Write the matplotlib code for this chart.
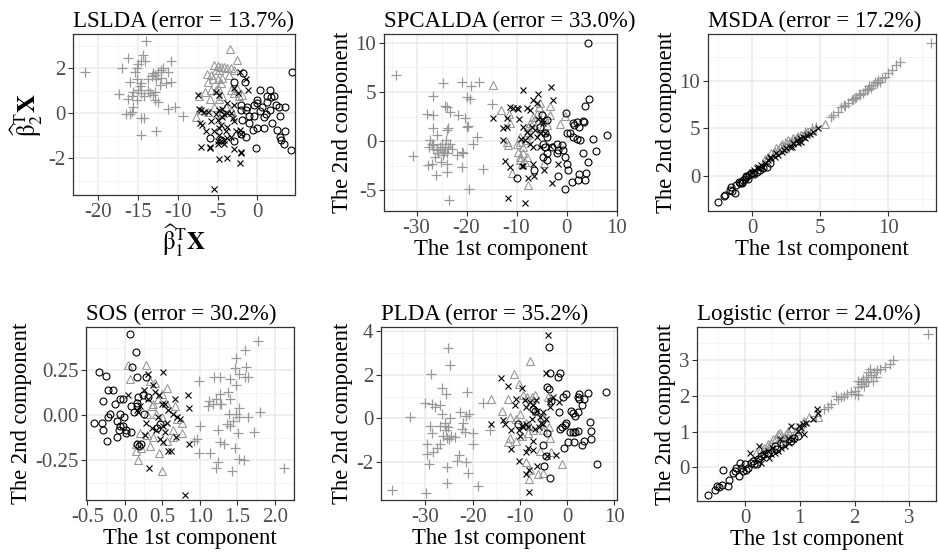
import numpy as np
import matplotlib.pyplot as plt
from matplotlib.ticker import FixedLocator, FixedFormatter

plt.rcParams['font.family'] = ['Liberation Serif', 'DejaVu Serif']
plt.rcParams['mathtext.fontset'] = 'stix'
plt.rcParams['axes.unicode_minus'] = False

# ---- data: (x, y) per class per panel ----
# classes: plus (grey +), tri (grey triangle), cross (black x), circ (black o)

lslda_plus = [(-21.7, 1.85), (-14.0, 3.2), (-14.4, 2.6), (-16.3, 2.45), (-17.0, 2.0), (-15.0, 2.2),
              (-15.2, 2.0), (-15.4, 1.85), (-14.6, 2.3), (-14.1, 2.3), (-10.9, 2.3), (-12.1, 1.9),
              (-12.5, 1.85), (-11.9, 2.0), (-12.9, 1.7), (-13.1, 1.8), (-16.0, 1.4), (-15.2, 1.5),
              (-14.6, 1.35), (-13.75, 1.5), (-13.3, 1.65), (-12.7, 1.5), (-12.1, 1.55), (-10.8, 1.4),
              (-11.5, 1.35), (-17.4, 0.85), (-15.8, 0.75), (-15.0, 1.05), (-14.6, 0.9), (-14.2, 0.75),
              (-15.2, 0.6), (-15.6, 0.3), (-16.5, -0.05), (-16.0, -0.05), (-13.1, 0.8), (-12.9, 0.6),
              (-12.5, 0.5), (-13.5, 0.9), (-14.6, -0.2), (-14.2, -0.2), (-14.6, -0.95), (-12.7, -0.8),
              (-11.25, 0.2), (-10.3, 0.3), (-9.4, -0.1), (-14.8, 1.2), (-12.3, 1.25), (-13.75, 1.05),
              (-15.6, 0.95), (-16.25, 0.65), (-15.8, 0.05), (-12.9, 0.95), (-11.25, 1.85)]
lslda_tri = [(-3.45, 2.85), (-2.6, 2.35), (-6.3, 1.75), (-5.4, 2.15), (-5.0, 2.1), (-4.6, 2.05),
             (-4.2, 2.05), (-3.75, 2.0), (-3.3, 2.0), (-2.9, 1.9), (-4.8, 1.9), (-5.2, 1.9),
             (-5.6, 1.5), (-5.0, 1.5), (-4.4, 1.55), (-4.6, 1.35), (-6.25, 1.4), (-5.8, 1.05),
             (-5.2, 1.05), (-5.0, 1.1), (-3.3, 1.05), (-2.5, 1.1), (-2.9, 0.9), (-1.9, 0.8),
             (-2.3, 0.75), (-4.4, 0.75), (-4.8, 0.65), (-6.0, 0.65), (-7.3, 0.75), (-7.7, -0.15),
             (-6.25, 0.05), (-7.1, 0.15), (-3.6, 1.7), (-6.6, 0.95), (-3.95, 0.3), (-5.4, 0.3),
             (-3.3, 0.15), (-4.6, -0.05), (-5.8, 1.7)]
lslda_cross = [(-7.5, 0.8), (-7.3, 0.2), (-7.1, 0.15), (-6.7, 0.05), (-6.25, 0.05), (-7.2, -0.45),
               (-7.0, -0.5), (-6.5, -0.8), (-7.1, -1.5), (-6.0, -1.5), (-4.8, -0.95), (-4.8, -0.65),
               (-4.6, -0.5), (-4.5, -0.15), (-4.2, -0.05), (-3.75, 0.0), (-3.3, 0.0), (-3.1, -0.2),
               (-2.9, -0.35), (-3.75, -0.6), (-3.95, -0.8), (-4.2, -1.2), (-5.0, -1.25), (-5.0, -1.35),
               (-4.6, -1.25), (-4.2, -1.35), (-3.75, -1.1), (-3.3, -1.05), (-2.7, -0.8), (-5.2, 0.95),
               (-4.8, 0.8), (-2.4, 0.9), (-2.2, 1.85), (-1.45, 1.5), (-1.15, 1.05), (-2.2, -0.75),
               (-2.1, -0.9), (-2.1, -1.7), (-2.0, -1.75), (-2.2, -2.2), (-2.9, -1.6), (-3.8, -2.0),
               (-4.8, -2.05), (-5.4, -3.35), (-4.8, 0.15), (-4.4, 0.2), (-2.9, 0.35), (-3.75, 0.45),
               (-2.9, 1.1), (-5.2, -0.05), (-5.0, -0.3), (-5.4, -0.8), (-5.8, -0.35), (-5.95, -1.55)]
lslda_circ = [(4.4, 1.85), (-2.9, 1.4), (-1.55, 1.4), (-1.75, 1.8), (0.4, 1.05), (1.6, 1.05),
              (0.0, 0.6), (1.25, 0.5), (1.75, 0.7), (2.1, 0.75), (-2.1, 0.35), (-1.25, 0.3),
              (-0.4, 0.35), (0.0, 0.45), (0.6, 0.3), (2.3, 0.35), (2.7, 0.3), (3.45, 0.3),
              (-2.1, 0.15), (-1.45, 0.15), (-1.05, -0.1), (-0.4, -0.1), (0.4, 0.1), (0.85, -0.15),
              (1.65, 0.15), (-1.9, -0.3), (-1.05, -0.45), (0.85, -0.65), (1.9, -0.45), (2.9, -0.1),
              (-5.9, -1.1), (-4.6, -1.2), (-2.9, -1.25), (-2.1, -0.9), (-1.45, -1.05), (-0.55, -0.75),
              (0.0, -0.65), (2.5, -0.75), (3.05, -1.2), (3.35, -1.35), (2.9, -1.05), (-0.2, -1.55),
              (4.2, -1.65), (3.5, -0.8), (1.25, 0.75), (1.05, -0.05)]

spcalda_plus = [(-34.1, 6.7), (-30.8, -1.5), (-24.8, 5.95), (-26.8, 4.6), (-28.0, 2.8), (-26.7, 2.65),
                (-24.3, 3.6), (-24.0, 3.45), (-23.3, 3.0), (-21.7, 2.65), (-20.3, 2.4), (-21.0, 6.05),
                (-19.1, 5.6), (-17.5, 6.05), (-20.0, 4.5), (-19.3, 4.25), (-26.8, 1.3), (-26.0, 0.6),
                (-24.0, 1.1), (-23.7, 1.3), (-20.0, 1.45), (-19.7, 1.5), (-17.9, 0.45), (-18.8, -0.25),
                (-27.3, 0.1), (-27.0, -0.25), (-27.5, -0.6), (-26.7, -0.75), (-26.0, -0.9), (-25.3, -0.6),
                (-25.0, -0.25), (-24.5, -1.1), (-24.0, -1.25), (-23.7, -0.6), (-23.3, -0.25), (-24.1, 0.1),
                (-25.0, -0.75), (-24.7, -1.45), (-25.7, -1.25), (-26.3, -1.6), (-27.7, -2.45), (-27.0, -2.3),
                (-26.1, -3.45), (-25.2, -2.1), (-23.9, -2.3), (-23.9, -3.1), (-22.0, -1.45), (-21.0, -1.1),
                (-20.7, -1.25), (-21.0, -2.6), (-16.8, -2.8), (-19.5, -4.9), (-23.5, -6.0), (-26.7, -0.4),
                (-24.3, -0.6), (-23.0, -0.75), (-15.0, 3.8)]
spcalda_tri = [(-14.8, 5.7), (-13.2, 3.15), (-11.5, 2.8), (-11.3, 1.8), (-12.0, -0.05), (-11.7, -0.4),
               (-11.0, -3.2), (-9.7, -1.1), (-9.3, -1.6), (-8.7, -1.25), (-8.0, -1.6), (-9.3, -1.95),
               (-8.3, -2.1), (-9.0, -2.3), (-10.0, -0.25), (-9.3, -0.05), (-8.7, -0.6), (-8.0, 0.1),
               (-8.0, 0.6), (-7.7, 1.45), (-7.3, 1.8), (-6.7, 2.5), (-6.0, 2.8), (-5.5, 3.5),
               (-5.3, 3.9), (-4.7, 2.8), (-4.3, 2.3), (-3.3, 2.65), (-3.9, 1.6), (-5.0, 1.3),
               (-6.7, 2.0), (-3.3, 3.55), (-1.3, 1.75), (-0.3, 2.6), (-4.5, -2.2), (-7.8, -4.5),
               (-7.7, 0.95), (-9.3, 0.45)]
spcalda_cross = [(-8.7, 5.2), (-5.7, 4.75), (-3.2, 5.55), (-2.7, 4.2), (-11.3, 3.45), (-10.7, 3.35),
                 (-9.9, 3.35), (-9.7, 3.25), (-12.0, 2.4), (-12.8, 1.3), (-12.0, 1.45), (-12.7, 0.1),
                 (-9.5, 2.3), (-8.0, 3.35), (-7.3, 3.15), (-6.7, 4.2), (-6.0, 3.85), (-8.7, 1.45),
                 (-8.0, 0.95), (-7.3, 0.6), (-7.0, 1.45), (-6.3, 1.1), (-5.7, 2.3), (-5.0, 2.15),
                 (-9.1, 0.25), (-8.3, 0.1), (-7.3, -0.25), (-6.7, -0.6), (-6.0, 0.45), (-5.3, 0.8),
                 (-12.3, -2.05), (-11.3, -2.6), (-8.7, -2.55), (-6.7, -2.35), (-6.5, -3.55), (-7.7, -3.7),
                 (-8.9, -2.5), (-4.5, -2.95), (-3.0, -4.25), (-1.7, -2.3), (-4.3, 0.85), (-5.3, -0.6),
                 (-11.7, -5.75), (-8.3, -6.3), (-3.3, -0.5), (-4.8, 1.8), (-14.8, 2.4)]
spcalda_circ = [(4.3, 10.0), (4.5, 4.25), (3.7, 3.55), (-0.1, 2.9), (1.3, 1.85), (2.0, 2.0),
                (3.2, 2.1), (3.5, 2.0), (1.5, 1.6), (2.5, 1.45), (0.0, 0.85), (0.7, 0.8),
                (1.3, 0.45), (2.0, 0.25), (2.7, 0.1), (5.2, 0.25), (8.0, 0.6), (5.9, -1.0),
                (-2.0, -0.25), (-1.0, -0.4), (-0.7, -0.9), (-1.7, -0.9), (-0.3, -1.6), (0.0, -2.3),
                (0.3, -2.9), (3.3, -1.25), (4.3, -2.1), (3.9, -3.25), (2.5, -3.3), (1.0, -4.15),
                (-0.3, -4.85), (-1.7, -3.55), (2.3, -3.9), (3.7, -3.95), (-4.3, 0.8), (-4.0, 0.45),
                (-4.7, -0.25), (-5.3, 1.45), (-4.0, 2.15), (-5.0, 2.65), (-4.3, -0.6), (-3.9, -1.25),
                (-4.7, -1.6), (-4.0, -1.95), (-10.0, -3.7), (-6.5, -2.95), (-3.0, -0.6), (-2.0, -1.25)]

msda_plus = [(13.1, 14.0), (10.85, 12.05), (10.55, 11.7), (10.25, 11.15), (10.0, 10.8), (9.75, 10.45),
             (9.5, 10.3), (9.25, 10.1), (9.15, 9.75), (8.9, 9.6), (8.75, 9.3), (8.5, 9.2),
             (8.3, 9.05), (8.1, 8.7), (7.9, 8.5), (7.65, 8.35), (7.55, 8.15), (7.3, 8.0),
             (7.05, 7.65), (6.7, 7.45), (6.5, 7.3), (6.3, 6.75), (5.95, 6.4), (5.75, 6.15),
             (9.4, 9.9), (8.6, 9.45), (7.8, 8.6), (7.4, 8.1), (9.05, 9.85), (8.4, 9.05),
             (6.8, 7.35), (4.7, 5.1), (4.35, 5.0), (3.85, 4.65), (3.35, 4.1), (2.4, 3.4), (2.9, 3.75)]
msda_tri = [(5.3, 5.45), (4.35, 4.8), (4.0, 4.65), (3.6, 4.3), (3.25, 4.1), (3.0, 3.95),
            (2.75, 3.6), (2.5, 3.4), (2.25, 3.05), (2.0, 3.05), (1.9, 2.7), (1.65, 2.55),
            (1.4, 2.35), (2.6, 3.75), (3.1, 3.75), (2.15, 3.35), (1.75, 2.9), (1.15, 2.0),
            (0.9, 1.75), (2.4, 2.9), (2.9, 3.4), (3.35, 3.75), (3.85, 4.5)]
msda_cross = [(4.85, 5.0), (4.45, 4.65), (4.25, 4.45), (4.0, 4.3), (3.75, 4.1), (3.5, 3.95),
              (3.25, 3.75), (3.0, 3.4), (2.75, 3.05), (2.5, 2.9), (2.15, 2.55), (1.9, 2.2),
              (1.65, 2.0), (1.4, 1.85), (1.15, 1.65), (0.9, 1.3), (0.65, 1.15), (0.4, 0.95),
              (0.3, 0.8), (0.55, 0.8), (0.8, 0.95), (3.35, 3.4), (3.6, 3.6), (3.85, 3.95),
              (2.9, 3.05), (2.35, 2.7), (1.75, 2.35), (1.3, 2.0), (0.15, 0.6), (-0.05, 0.4)]
msda_circ = [(-2.55, -2.8), (-2.1, -2.15), (-2.0, -2.05), (-1.6, -1.15), (-1.5, -1.6), (-1.3, -1.8),
             (-1.65, -1.5), (-1.2, -1.0), (-0.95, -0.8), (-0.8, -0.65), (-0.7, -0.45), (-0.55, -0.3),
             (-0.45, -0.1), (-0.25, 0.05), (-0.1, 0.25), (0.05, 0.3), (0.3, 0.4), (0.55, 0.6),
             (0.8, 0.8), (1.05, 0.95), (1.3, 1.3), (-1.0, -0.65), (-0.75, -0.8), (-0.35, -0.4),
             (0.15, 0.2), (-0.5, -0.05)]

sos_plus = [(1.78, 0.41), (1.6, 0.36), (1.48, 0.32), (1.62, 0.27), (1.47, 0.26), (1.53, 0.23),
            (1.64, 0.21), (1.6, 0.21), (1.4, 0.2), (1.27, 0.21), (1.19, 0.21), (0.99, 0.19),
            (1.49, 0.17), (1.38, 0.13), (1.27, 0.12), (1.4, 0.09), (1.22, 0.09), (1.13, 0.08),
            (1.11, 0.05), (1.27, 0.06), (1.18, 0.06), (1.52, 0.04), (1.8, 0.02), (1.64, -0.01),
            (1.53, -0.01), (1.49, 0.01), (1.39, 0.01), (1.44, -0.03), (1.36, -0.05), (1.24, -0.08),
            (1.4, -0.06), (1.51, -0.1), (1.73, -0.09), (1.01, -0.06), (0.96, -0.13), (0.93, -0.14),
            (1.27, -0.15), (1.32, -0.16), (1.47, -0.18), (0.99, -0.21), (1.14, -0.21), (1.24, -0.26),
            (1.22, -0.29), (1.43, -0.31), (1.52, -0.24), (1.59, -0.25), (2.13, -0.29), (1.29, 0.06)]
sos_tri = [(0.04, 0.28), (0.28, 0.28), (0.07, 0.2), (0.33, 0.19), (0.4, 0.18), (0.56, 0.15),
           (0.49, 0.12), (0.44, 0.09), (0.38, 0.06), (0.67, 0.05), (0.55, 0.07), (0.42, 0.01),
           (0.49, -0.01), (0.2, -0.1), (0.29, -0.11), (0.15, -0.16), (0.22, -0.18), (0.33, -0.17),
           (0.38, -0.12), (0.64, -0.12), (0.76, -0.1), (0.56, -0.14), (0.64, -0.08), (0.15, -0.2),
           (0.18, -0.25), (0.46, -0.21), (0.49, -0.31), (0.76, -0.04), (0.7, -0.02), (0.36, 0.05),
           (0.29, 0.01)]
sos_cross = [(0.31, 0.23), (0.51, 0.24), (0.04, 0.11), (0.25, 0.14), (0.38, 0.17), (0.4, 0.13),
             (0.46, 0.11), (0.49, 0.06), (0.53, 0.06), (0.58, 0.03), (0.64, 0.01), (0.67, 0.09),
             (0.69, -0.01), (0.73, -0.02), (0.84, 0.11), (0.86, 0.04), (0.31, 0.09), (0.2, 0.05),
             (0.18, 0.02), (0.28, -0.04), (0.36, -0.07), (0.42, -0.08), (0.51, -0.06), (0.53, -0.09),
             (0.47, -0.13), (0.51, -0.15), (0.58, -0.2), (0.62, -0.2), (0.68, -0.12), (0.27, -0.11),
             (0.86, -0.16), (0.32, -0.29), (0.8, -0.44), (0.16, 0.03), (0.56, -0.04), (0.44, -0.01)]
sos_circ = [(0.07, 0.45), (0.15, 0.35), (-0.34, 0.24), (-0.25, 0.22), (0.09, 0.27), (0.16, 0.21),
            (0.28, 0.21), (-0.22, 0.14), (-0.16, 0.14), (-0.29, 0.08), (-0.13, 0.06), (-0.06, 0.09),
            (-0.02, 0.09), (0.18, 0.1), (0.16, 0.07), (0.24, 0.11), (0.31, 0.1), (0.08, 0.05),
            (0.12, 0.02), (0.16, 0.05), (-0.2, 0.01), (-0.22, -0.01), (-0.07, 0.01), (-0.01, -0.01),
            (-0.41, -0.04), (-0.31, -0.04), (-0.11, -0.03), (-0.02, -0.06), (0.02, -0.08), (0.25, 0.01),
            (-0.29, -0.08), (-0.08, -0.08), (0.02, -0.1), (-0.11, -0.12), (-0.24, -0.14), (0.08, -0.09),
            (0.16, -0.16), (0.21, -0.16), (0.19, -0.17), (0.43, -0.07), (0.47, -0.05), (-0.07, -0.06)]

plda_plus = [(-37.1, -3.3), (-33.2, 0.05), (-29.9, -3.45), (-28.9, 2.05), (-25.1, 3.25), (-24.8, 2.45),
             (-26.5, 1.4), (-25.6, 1.1), (-30.1, 0.7), (-28.7, 0.65), (-28.0, 0.5), (-26.9, 0.6),
             (-26.5, 0.2), (-24.8, 0.0), (-21.1, 1.2), (-22.7, 0.3), (-21.3, 0.1), (-20.7, 0.2),
             (-22.1, -0.2), (-22.3, -0.5), (-21.6, -0.65), (-19.9, -0.7), (-17.7, 0.7), (-16.3, -0.55),
             (-29.0, -0.35), (-28.5, -0.7), (-26.8, -0.35), (-25.8, -0.35), (-25.6, -0.55), (-26.2, -0.8),
             (-25.5, -0.9), (-24.9, -0.95), (-24.6, -0.8), (-23.7, -0.85), (-26.9, -1.2), (-27.6, -1.35),
             (-28.3, -1.55), (-29.7, -1.65), (-29.7, -1.2), (-29.2, -2.1), (-25.5, -2.25), (-23.4, -1.95),
             (-22.8, -1.7), (-21.4, -2.0), (-20.9, -2.5), (-19.9, -1.2), (-25.4, -3.0), (-18.8, -3.1),
             (-25.8, -0.2), (-25.3, -0.4)]
plda_tri = [(-7.9, 2.65), (-11.3, 2.05), (-10.1, 1.6), (-16.0, 0.9), (-12.5, 0.9), (-13.8, 0.35),
            (-9.3, 1.05), (-8.5, 1.0), (-7.5, 1.0), (-6.8, 1.05), (-4.0, 1.0), (-12.1, 0.05),
            (-10.0, 0.2), (-10.7, -0.05), (-8.6, -0.2), (-7.9, -0.35), (-7.2, -0.55), (-12.1, -0.9),
            (-12.5, -1.1), (-10.7, -1.05), (-9.6, -0.8), (-8.2, -0.7), (-5.1, -0.55), (-3.7, -0.9),
            (-3.8, -0.4), (-5.8, -1.5), (-8.7, -2.0), (-8.1, -2.8), (-6.1, -2.55), (-5.1, -2.5),
            (-7.9, -2.4), (-1.0, -2.1), (-3.3, -1.55), (-5.1, 0.05), (-6.5, 0.35)]
plda_cross = [(-4.0, 3.85), (-4.4, 2.1), (-14.0, 1.85), (-12.5, 1.5), (-16.1, -0.25), (-9.5, 1.4),
              (-10.7, 0.9), (-11.1, 0.6), (-8.9, 0.85), (-8.6, 0.5), (-7.9, 0.75), (-7.2, 0.6),
              (-6.6, 0.85), (-6.3, 0.35), (-5.8, 0.05), (-5.1, 0.3), (-4.4, -0.05), (-3.5, 0.5),
              (-3.7, 0.8), (-1.7, 0.75), (-3.0, 1.0), (-13.5, -0.1), (-13.2, -0.25), (-11.8, -0.55),
              (-10.1, -0.55), (-10.0, -0.8), (-9.3, -0.4), (-8.6, -0.25), (-7.5, -0.05), (-6.8, -0.5),
              (-5.9, -0.4), (-5.1, -0.25), (-11.8, -1.4), (-8.2, -1.35), (-7.3, -1.45), (-8.6, -1.55),
              (-10.1, -1.95), (-8.1, -2.4), (-8.6, -2.55), (-6.3, -2.2), (-2.3, -1.7), (-4.2, -1.75),
              (-8.1, -3.4), (-9.6, -0.35), (-8.2, -0.4), (-5.4, -0.2), (-7.2, -1.05)]
plda_circ = [(-3.8, 3.3), (-3.7, 2.1), (-1.9, 1.9), (-1.5, 2.1), (-4.2, 1.45), (-3.8, 1.35),
             (-3.3, 0.8), (-0.85, 1.0), (-0.15, 1.1), (8.3, 1.2), (4.4, 1.15), (2.5, 1.1),
             (2.3, 1.0), (2.5, 0.9), (3.7, 0.9), (3.2, 0.6), (0.9, 0.35), (1.3, 0.25),
             (1.6, 0.1), (2.3, 0.3), (-1.7, 0.3), (-7.2, 0.45), (-6.8, 0.35), (-4.2, -0.7),
             (-0.15, -0.2), (-0.5, -0.3), (-1.0, -0.4), (-1.5, -0.5), (0.7, -0.65), (1.3, -0.65),
             (1.6, -0.65), (2.3, -0.6), (4.8, -0.15), (5.1, -0.6), (5.0, -0.95), (3.7, -1.05),
             (3.2, -1.25), (1.4, -1.1), (0.2, -1.1), (-0.7, -1.35), (-5.1, -1.25), (-4.4, -1.75),
             (-4.9, -2.2), (-3.5, -2.75), (6.3, -2.1), (-10.4, -0.25)]

logit_plus = [(3.35, 3.73), (2.7, 3.0), (2.64, 2.9), (2.55, 2.81), (2.47, 2.76), (2.42, 2.72),
              (2.36, 2.67), (2.29, 2.76), (2.24, 2.67), (2.31, 2.58), (2.21, 2.53), (2.15, 2.48),
              (2.06, 2.43), (2.12, 2.34), (2.24, 2.43), (2.18, 2.29), (2.06, 2.26), (2.33, 2.43),
              (2.39, 2.53), (2.0, 2.15), (1.94, 2.1), (1.86, 2.06), (1.81, 2.01), (1.75, 1.96),
              (1.69, 1.92), (1.66, 2.01), (1.57, 1.77), (1.51, 1.68), (1.45, 1.63), (2.06, 2.04),
              (2.0, 2.06), (2.12, 2.39), (2.21, 2.39), (1.3, 1.44), (1.08, 1.21), (0.96, 1.11)]
logit_tri = [(1.17, 1.4), (1.08, 1.3), (0.84, 1.11), (0.81, 0.92), (0.72, 0.83), (0.66, 0.88),
             (0.6, 0.92), (0.51, 0.78), (0.47, 0.69), (0.41, 0.64), (0.35, 0.55), (0.29, 0.5),
             (0.57, 0.83), (0.66, 0.74), (0.75, 0.92), (0.78, 1.02), (0.93, 1.02), (0.99, 1.11),
             (1.33, 1.4), (0.84, 0.83), (0.63, 0.97), (0.44, 0.59), (0.2, 0.41), (0.69, 0.83)]
logit_cross = [(1.31, 1.63), (1.34, 1.51), (1.24, 1.35), (1.11, 1.23), (1.05, 1.21), (0.99, 1.16),
               (1.08, 0.92), (0.84, 1.16), (0.87, 0.78), (0.81, 0.69), (0.78, 0.83), (0.72, 0.59),
               (0.66, 0.55), (0.6, 0.45), (0.54, 0.41), (0.47, 0.36), (0.41, 0.45), (0.35, 0.41),
               (0.29, 0.12), (0.26, 0.59), (0.08, 0.41), (0.2, 0.22), (0.32, 0.26), (0.5, 0.55),
               (0.96, 1.02), (1.02, 1.11), (0.63, 0.78), (0.44, 0.26)]
logit_circ = [(-0.68, -0.77), (-0.56, -0.63), (-0.51, -0.54), (-0.47, -0.57), (-0.43, -0.49), (-0.41, -0.09),
              (-0.32, -0.54), (-0.29, -0.35), (-0.23, -0.16), (-0.18, -0.11), (-0.12, -0.25), (-0.07, -0.02),
              (-0.04, -0.11), (-0.01, 0.08), (0.02, -0.07), (0.06, -0.02), (0.1, 0.12), (0.14, 0.17),
              (0.17, 0.08), (0.22, 0.09), (0.23, 0.22), (0.29, 0.31), (0.35, 0.36), (0.41, 0.41),
              (0.54, 0.59), (0.58, 0.5), (0.69, 0.64), (0.84, 0.74), (0.9, 0.83), (0.96, 0.88),
              (-0.1, 0.12), (-0.16, -0.02)]

titles = ['LSLDA (error = 13.7%)', 'SPCALDA (error = 33.0%)', 'MSDA (error = 17.2%)',
          'SOS (error = 30.2%)', 'PLDA (error = 35.2%)', 'Logistic (error = 24.0%)']

GREY = '#999999'
W, H = 938, 554

fig = plt.figure(figsize=(W / 100, H / 100), dpi=100)


def make_ax(x0, y0, x1, y1):
    return fig.add_axes([x0 / W, (H - y1) / H, (x1 - x0) / W, (y1 - y0) / H])


def draw(ax, sets, title, xlim, ylim, xt, yt, xtl, ytl, xlab, ylab):
    plus, tri, cross, circ = [np.array(s) for s in sets]
    ax.plot(plus[:, 0], plus[:, 1], '+', color=GREY, ms=7, mew=0.9, ls='none')
    ax.plot(tri[:, 0], tri[:, 1], '^', mfc='none', mec=GREY, ms=5.5, mew=0.8, ls='none')
    ax.plot(cross[:, 0], cross[:, 1], 'x', color='black', ms=5, mew=0.8, ls='none')
    ax.plot(circ[:, 0], circ[:, 1], 'o', mfc='none', mec='black', ms=5, mew=0.8, ls='none')
    ax.set_xlim(xlim)
    ax.set_ylim(ylim)
    ax.xaxis.set_major_locator(FixedLocator(xt))
    ax.yaxis.set_major_locator(FixedLocator(yt))
    ax.xaxis.set_major_formatter(FixedFormatter(xtl))
    ax.yaxis.set_major_formatter(FixedFormatter(ytl))
    # minor grid halfway between the majors (ggplot style)
    dx, dy = xt[1] - xt[0], yt[1] - yt[0]
    xm = np.arange(xt[0] - dx / 2, xt[-1] + dx, dx)
    ym = np.arange(yt[0] - dy / 2, yt[-1] + dy, dy)
    ax.xaxis.set_minor_locator(FixedLocator(xm))
    ax.yaxis.set_minor_locator(FixedLocator(ym))
    ax.grid(which='major', color='#EBEBEB', lw=1.1)
    ax.grid(which='minor', color='#F3F3F3', lw=0.6)
    ax.set_axisbelow(True)
    ax.tick_params(which='major', length=3.5, width=0.8, color='#333333',
                   labelcolor='#4D4D4D', labelsize=15, pad=2)
    ax.tick_params(which='minor', length=0)
    for s in ax.spines.values():
        s.set_color('#333333')
        s.set_linewidth(0.9)
    ax.set_title(title, loc='left', fontsize=16.5, pad=5)
    ax.set_xlabel(xlab, fontsize=16.3, labelpad=1)
    ax.set_ylabel(ylab, fontsize=16.3, labelpad=2)


ax1 = make_ax(73, 34, 295, 195)
draw(ax1, [lslda_plus, lslda_tri, lslda_cross, lslda_circ], titles[0],
     (-23.2, 4.75), (-3.63, 3.52), [-20, -15, -10, -5, 0], [-2, 0, 2],
     ['-20', '-15', '-10', '-5', '0'], ['-2', '0', '2'],
     r'$\widehat{\mathrm{\beta}}_1^{\mathrm{T}}\mathbf{X}$',
     r'$\widehat{\mathrm{\beta}}_2^{\mathrm{T}}\mathbf{X}$')
ax1.xaxis.label.set_size(18)
ax1.yaxis.label.set_size(18)

ax2 = make_ax(384, 34, 617, 211)
draw(ax2, [spcalda_plus, spcalda_tri, spcalda_cross, spcalda_circ], titles[1],
     (-36.5, 10.1), (-7.1, 10.9), [-30, -20, -10, 0, 10], [-5, 0, 5, 10],
     ['-30', '-20', '-10', '0', '10'], ['-5', '0', '5', '10'],
     'The 1st component', 'The 2nd component')

ax3 = make_ax(708, 34, 936, 211)
draw(ax3, [msda_plus, msda_tri, msda_cross, msda_circ], titles[2],
     (-3.27, 13.5), (-3.73, 14.96), [0, 5, 10], [0, 5, 10],
     ['0', '5', '10'], ['0', '5', '10'],
     'The 1st component', 'The 2nd component')

ax4 = make_ax(86, 327, 294, 500)
draw(ax4, [sos_plus, sos_tri, sos_cross, sos_circ], titles[3],
     (-0.517, 2.257), (-0.47, 0.49), [-0.5, 0.0, 0.5, 1.0, 1.5, 2.0], [-0.25, 0.0, 0.25],
     ['-0.5', '0.0', '0.5', '1.0', '1.5', '2.0'], ['-0.25', '0.00', '0.25'],
     'The 1st component', 'The 2nd component')

ax5 = make_ax(381, 327, 617, 500)
draw(ax5, [plda_plus, plda_tri, plda_cross, plda_circ], titles[4],
     (-39.4, 10.6), (-3.76, 4.2), [-30, -20, -10, 0, 10], [-2, 0, 2, 4],
     ['-30', '-20', '-10', '0', '10'], ['-2', '0', '2', '4'],
     'The 1st component', 'The 2nd component')

ax6 = make_ax(697, 327, 936, 501)
draw(ax6, [logit_plus, logit_tri, logit_cross, logit_circ], titles[5],
     (-0.88, 3.49), (-0.95, 3.94), [0, 1, 2, 3], [0, 1, 2, 3],
     ['0', '1', '2', '3'], ['0', '1', '2', '3'],
     'The 1st component', 'The 2nd component')

fig.savefig('out.png', dpi=100)
